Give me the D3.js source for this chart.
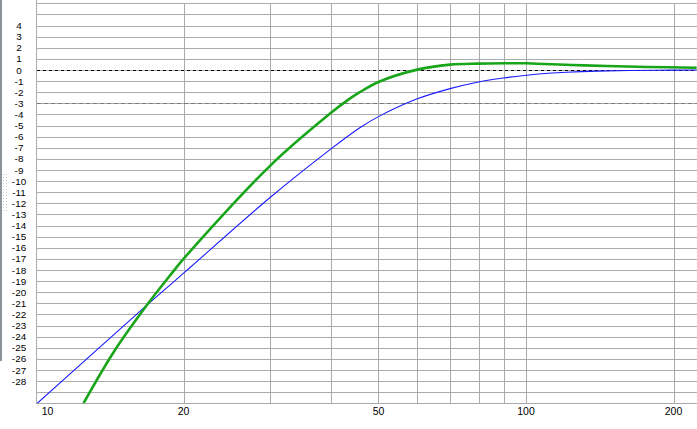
<!DOCTYPE html>
<html><head><meta charset="utf-8">
<script src="https://cdn.jsdelivr.net/npm/d3@7"></script>
<style>html,body{margin:0;padding:0;background:#fff;overflow:hidden}</style>
</head><body>
<svg id="chart" width="697" height="429"></svg>
<script>
// Data
const yTickLabels = [4,3,2,1,0,-1,-2,-3,-4,-5,-6,-7,-8,-9,-10,-11,-12,-13,-14,-15,-16,-17,-18,-19,-20,-21,-22,-23,-24,-25,-26,-27,-28];
const xTickLabels = [10, 20, 50, 100, 200];
const xGridFreqs = [20, 30, 40, 50, 60, 70, 80, 90, 100, 200];
const refLevels = [0, -3];
// blue curve (frequency Hz, dB)
const blueFreq = [10, 16.9, 19.4, 20.6, 30, 40, 45.8, 50, 60, 70, 80, 90, 101.5, 111, 121, 140, 185, 223];
const blueDb   = [-30.1, -21.1, -18.8, -17.8, -11.5, -7.1, -5.2, -4.2, -2.6, -1.68, -1.08, -0.72, -0.45, -0.3, -0.2, -0.1, -0.02, 0.0];
// green curve (frequency Hz, dB)
const greenFreq = [12.5, 14.4, 16.9, 18.77, 20, 30, 40, 43.4, 45.8, 50, 60, 70, 80, 90, 100, 105, 124, 146, 177, 223];
const greenDb   = [-30, -25.4, -21.07, -18.5, -17.0, -8.65, -3.86, -2.67, -2.0, -1.08, 0.03, 0.48, 0.57, 0.6, 0.6, 0.56, 0.45, 0.36, 0.27, 0.2];

(function () {
const svg = d3.select("#chart");
const W = 697;
const pLeft = 36, pTop = 3.3, pBottom = 403.3;

const x = d3.scaleLog().domain([10, 200]).range([pLeft, 673.5]);
const y = d3.scaleLinear().domain([-30, 6]).range([pBottom, pTop]);

const crisp = v => Math.round(v) + 0.5;
const gridColor = "#ababab";
const fontFam = "'Liberation Sans', Arial, sans-serif";

// left window-frame bar and grip dots
svg.append("rect").attr("x", 0).attr("y", 0).attr("width", 2).attr("height", 361).attr("fill", "#8e939a");
const gripRows = d3.range(0, 13);
svg.append("g").selectAll("rect").data(gripRows.flatMap(r => [[3, 174 + r*3], [6, 174 + r*3]]))
  .join("rect").attr("x", d => d[0]).attr("y", d => d[1]).attr("width", 1).attr("height", 1).attr("fill", "#c8c8c8");

// horizontal gridlines
const hLevels = d3.range(-29, 7);
svg.append("g").selectAll("line").data(hLevels).join("line")
  .attr("x1", pLeft).attr("x2", W)
  .attr("y1", d => crisp(y(d))).attr("y2", d => crisp(y(d)))
  .attr("stroke", gridColor).attr("stroke-width", 1);

// vertical gridlines
svg.append("g").selectAll("line").data(xGridFreqs).join("line")
  .attr("x1", d => crisp(x(d))).attr("x2", d => crisp(x(d)))
  .attr("y1", pTop).attr("y2", pBottom)
  .attr("stroke", gridColor).attr("stroke-width", 1);

// axis frame lines (left and bottom)
svg.append("line").attr("x1", crisp(pLeft)).attr("x2", crisp(pLeft)).attr("y1", 0).attr("y2", crisp(pBottom))
  .attr("stroke", gridColor);
svg.append("line").attr("x1", pLeft).attr("x2", W).attr("y1", crisp(pBottom)).attr("y2", crisp(pBottom))
  .attr("stroke", gridColor);

// reference dashed lines
svg.append("g").selectAll("line").data(refLevels).join("line")
  .attr("x1", pLeft + 1).attr("x2", W)
  .attr("y1", d => crisp(y(d))).attr("y2", d => crisp(y(d)))
  .attr("stroke", d => d === 0 ? "#000" : "#7a7a7a")
  .attr("stroke-dasharray", d => d === 0 ? "3,3" : "4,3")
  .attr("stroke-width", 1);

// y tick labels
svg.append("g").selectAll("text").data(yTickLabels).join("text")
  .attr("x", 19).attr("y", d => y(d)).attr("dy", "0.36em")
  .attr("text-anchor", "middle")
  .attr("font-family", fontFam).attr("font-size", 9.9)
  .attr("fill", "#000").text(d => d);

// x tick labels
svg.append("g").selectAll("text").data(xTickLabels).join("text")
  .attr("x", d => d === 10 ? x(d) + 11.5 : x(d)).attr("y", 414.5)
  .attr("text-anchor", "middle")
  .attr("font-family", fontFam).attr("font-size", 10.5)
  .attr("fill", "#000").text(d => d);

// clip for curves
svg.append("clipPath").attr("id", "plotclip").append("rect")
  .attr("x", pLeft + 1).attr("y", pTop).attr("width", W - pLeft - 1).attr("height", pBottom - pTop);

const line = d3.line().x(d => x(d[0])).y(d => y(d[1])).curve(d3.curveCatmullRom.alpha(0.5));
const blue = blueFreq.map((f, i) => [f, blueDb[i]]);
const green = greenFreq.map((f, i) => [f, greenDb[i]]);

const plot = svg.append("g").attr("clip-path", "url(#plotclip)");
plot.append("path").attr("d", line(blue)).attr("fill", "none")
  .attr("stroke", "#1a1aff").attr("stroke-width", 1.1);
plot.append("path").attr("d", line(green)).attr("fill", "none")
  .attr("stroke", "#19a519").attr("stroke-width", 2.6);
})();
</script>
</body></html>
